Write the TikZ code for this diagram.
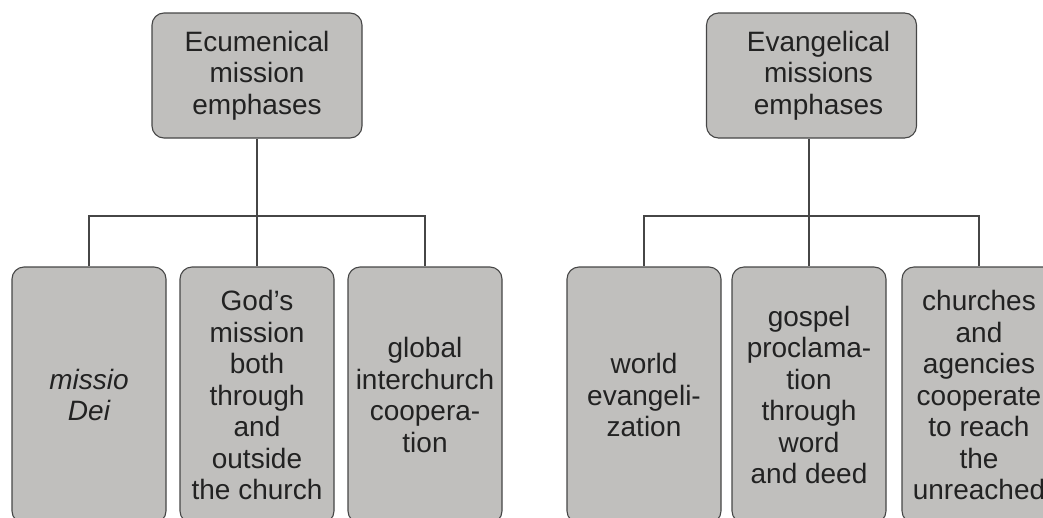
\documentclass[tikz,border=0pt]{standalone}
\usepackage{fontspec}
\setmainfont{Liberation Sans}
\definecolor{boxfill}{RGB}{192,191,189}
\definecolor{boxline}{RGB}{70,70,70}
\definecolor{txt}{RGB}{34,34,34}
\tikzset{
  card/.style={draw=boxline, fill=boxfill, line width=1.1pt, rounded corners=12pt,
    align=center, text=txt, inner sep=0pt,
    font=\fontsize{28}{31.5}\selectfont},
  headbox/.style={card, minimum width=210pt, minimum height=125pt},
  leafbox/.style={card, minimum width=154pt, minimum height=256pt},
  conn/.style={draw=boxline, line width=1.1pt}
}
\begin{document}
\begin{tikzpicture}[x=1pt,y=-1pt]
\useasboundingbox (0,0) rectangle (1043,517);
\clip (0,0) rectangle (1043,517);
% left group
\node[headbox] (tL) at (257,75.5) {Ecumenical\\mission\\emphases};
\node[leafbox] (l1) at (89,395) {\itshape missio\\\itshape Dei};
\node[leafbox] (l2) at (257,395) {God’s\\mission\\both\\through\\and\\outside\\the church};
\node[leafbox] (l3) at (425,395) {global\\interchurch\\coopera-\\tion};
\coordinate (lbar) at (257,216);
\draw[conn] (tL.south) -- (l2.north);
\draw[conn] (l1.north) -- (l1.north |- lbar) -- (l3.north |- lbar) -- (l3.north);
% right group
\node[headbox] (tR) at (811.5,75.5) {\hspace*{14pt}Evangelical\\\hspace*{14pt}missions\\\hspace*{14pt}emphases};
\node[leafbox] (r1) at (644,395) {world\\evangeli-\\zation};
\node[leafbox] (r2) at (809,395) {gospel\\proclama-\\tion\\through\\word\\and deed};
\node[leafbox] (r3) at (979,395) {churches\\and\\agencies\\cooperate\\to reach\\the\\unreached};
\coordinate (rbar) at (808,216);
\draw[conn] (tR.south -| r2.north) -- (r2.north);
\draw[conn] (r1.north) -- (r1.north |- rbar) -- (r3.north |- rbar) -- (r3.north);
\end{tikzpicture}
\end{document}
